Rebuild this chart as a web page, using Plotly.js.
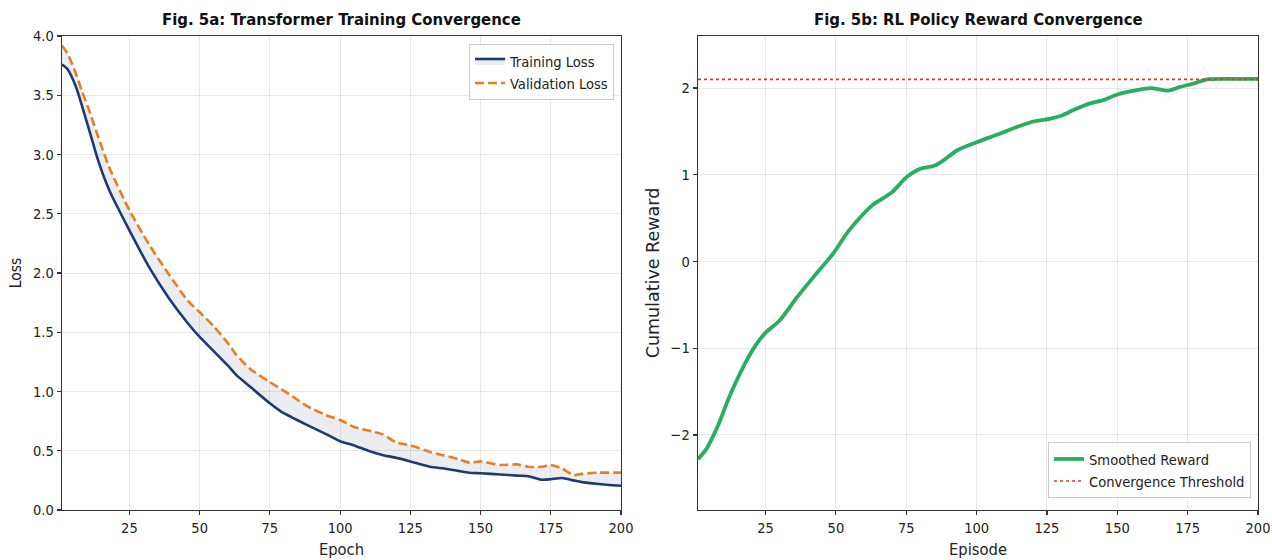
<!DOCTYPE html>
<html>
<head>
<meta charset="utf-8">
<script src="https://cdn.plot.ly/plotly-3.0.1.min.js"></script>
<style>html,body{margin:0;padding:0;background:#fff;}#chart{width:1272px;height:560px;}</style>
</head>
<body>
<div id="chart"></div>
<script>
// ---- Fig. 5a data ----
const epochs = [1,3,6,8,11,14,18,25,32,39,46,50,55,60,63,68,75,79,83,88,95,100,105,110,115,120,125,132,137,142,146,150,157,163,167,172,175,179,183,186,192,200];
const trainingLoss = [3.76,3.72,3.57,3.42,3.18,2.94,2.69,2.36,2.05,1.79,1.57,1.46,1.34,1.22,1.14,1.04,0.90,0.83,0.78,0.72,0.64,0.58,0.545,0.50,0.465,0.44,0.41,0.365,0.35,0.33,0.315,0.31,0.30,0.29,0.285,0.255,0.26,0.27,0.25,0.235,0.22,0.205];
const validationLoss = [3.92,3.85,3.68,3.54,3.35,3.14,2.88,2.53,2.24,1.99,1.76,1.67,1.55,1.41,1.31,1.19,1.08,1.02,0.96,0.88,0.80,0.76,0.70,0.67,0.64,0.57,0.545,0.49,0.46,0.43,0.40,0.41,0.38,0.385,0.365,0.365,0.38,0.35,0.295,0.305,0.315,0.315];
const epochTicks = [25,50,75,100,125,150,175,200];
const lossTicks = [0.0,0.5,1.0,1.5,2.0,2.5,3.0,3.5,4.0];

// ---- Fig. 5b data ----
const episodes = [1,4,8,12,17,21,25,30,36,42,49,54,57,63,70,75,80,85,88,93,100,108,115,121,126,130,134,140,145,150,156,162,168,172,178,182,191,200];
const smoothedReward = [-2.28,-2.16,-1.90,-1.57,-1.22,-0.99,-0.82,-0.68,-0.42,-0.18,0.09,0.33,0.45,0.65,0.80,0.97,1.07,1.105,1.16,1.28,1.375,1.47,1.56,1.62,1.645,1.68,1.74,1.82,1.86,1.925,1.97,2.00,1.97,2.01,2.06,2.10,2.105,2.105];
const rawEpisodes = [1,5,9,13,17,21,25,29,33,37,41,45,49,53,57,61,65,69,73,77,81,85,89,93,97,101,105,109,113,117,121,125,129,133,137,141,145,149,153,157,161,165,169,173,177,181,185,189,193,197,200];
const rawReward = [-2.55,-2.05,-1.85,-1.45,-1.25,-0.95,-0.85,-0.62,-0.62,-0.25,-0.30,0.05,0.05,0.38,0.40,0.62,0.60,0.85,0.78,1.10,1.05,1.00,1.30,1.22,1.42,1.35,1.52,1.40,1.60,1.52,1.70,1.60,1.75,1.68,1.90,1.78,1.95,1.85,2.15,1.90,2.22,1.95,1.88,2.15,1.98,2.25,2.00,2.15,2.05,2.18,2.08];
const convergenceThreshold = 2.1;
const episodeTicks = [25,50,75,100,125,150,175,200];
const rewardTicks = [-2,-1,0,1,2];

const COND = '"DejaVu Sans Condensed", "DejaVu Sans", sans-serif';
const REG = '"DejaVu Sans", sans-serif';
const navy = '#1f3a70', orange = '#e67e22', green = '#27ae60', red = '#e0392b';

const traces = [
  {x: epochs, y: validationLoss, mode:'lines', line:{width:0, shape:'spline', smoothing:0.6}, showlegend:false, hoverinfo:'skip', xaxis:'x', yaxis:'y'},
  {x: epochs, y: trainingLoss, mode:'lines', name:'Training Loss', line:{color:navy, width:2.6, shape:'spline', smoothing:0.6}, fill:'tonexty', fillcolor:'rgba(31,58,112,0.09)', xaxis:'x', yaxis:'y', legend:'legend'},
  {x: epochs, y: validationLoss, mode:'lines', name:'Validation Loss', line:{color:orange, width:2.6, dash:'9px,4px', shape:'spline', smoothing:0.6}, xaxis:'x', yaxis:'y', legend:'legend'},
  {x: rawEpisodes, y: rawReward, mode:'lines', line:{color:'rgba(160,185,175,0.18)', width:1}, showlegend:false, hoverinfo:'skip', xaxis:'x2', yaxis:'y2'},
  {x: episodes, y: smoothedReward, mode:'lines', name:'Smoothed Reward', line:{color:green, width:3.8, shape:'spline', smoothing:0.7}, xaxis:'x2', yaxis:'y2', legend:'legend2'},
  {x: [1,200], y: [convergenceThreshold, convergenceThreshold], mode:'lines', name:'Convergence Threshold', line:{color:red, width:1.6, dash:'dot'}, xaxis:'x2', yaxis:'y2', legend:'legend2'}
];

const axisCommon = {
  showline:true, linecolor:'#333', linewidth:1.3, mirror:true,
  ticks:'outside', ticklen:4, tickcolor:'#333', tickwidth:1.2,
  showgrid:true, gridcolor:'rgba(0,0,0,0.09)', gridwidth:1,
  zeroline:false, automargin:false, tickangle:0,
  tickfont:{family:COND, size:14.5, color:'#222'}
};

const PH = 474; // plot height in px (560 - 36 - 50)
const layout = {
  width:1272, height:560,
  margin:{l:0, r:0, t:36, b:50, autoexpand:false},
  paper_bgcolor:'#fff', plot_bgcolor:'#fff',
  font:{family:COND, size:14.5, color:'#222'},
  xaxis: Object.assign({}, axisCommon, {domain:[62/1272, 621/1272], range:[1,200], tickvals:epochTicks, title:{text:'Epoch', font:{family:COND, size:16.4}, standoff:8}}),
  yaxis: Object.assign({}, axisCommon, {domain:[0,1], range:[0,4], tickvals:lossTicks, tickformat:'.1f', title:{text:'Loss', font:{family:COND, size:15.5}, standoff:7}}),
  xaxis2: Object.assign({}, axisCommon, {domain:[698/1272, 1258/1272], anchor:'y2', range:[1,200], tickvals:episodeTicks, title:{text:'Episode', font:{family:COND, size:16.4}, standoff:8}}),
  yaxis2: Object.assign({}, axisCommon, {domain:[0,1], anchor:'x2', range:[-2.865,2.6], tickvals:rewardTicks, title:{text:'Cumulative Reward', font:{family:REG, size:17.5}, standoff:6}}),
  legend:{x:614/1272, xanchor:'right', y:1-(44-36)/PH, yanchor:'top', xref:'paper', yref:'paper', traceorder:'normal', bgcolor:'rgba(255,255,255,0.85)', bordercolor:'#cccccc', borderwidth:1, font:{family:COND, size:14.6}},
  legend2:{x:1251/1272, xanchor:'right', y:(510-498)/PH, yanchor:'bottom', xref:'paper', yref:'paper', traceorder:'normal', bgcolor:'rgba(255,255,255,0.85)', bordercolor:'#cccccc', borderwidth:1, font:{family:COND, size:14.6}},
  annotations:[
    {text:'<b>Fig. 5a: Transformer Training Convergence</b>', xref:'paper', yref:'paper', x:(62+621)/2/1272, xanchor:'center', y:1, yshift:5, yanchor:'bottom', showarrow:false, font:{family:COND, size:16.6, color:'#111'}},
    {text:'<b>Fig. 5b: RL Policy Reward Convergence</b>', xref:'paper', yref:'paper', x:(698+1258)/2/1272, xanchor:'center', y:1, yshift:5, yanchor:'bottom', showarrow:false, font:{family:COND, size:16.6, color:'#111'}}
  ],
  showlegend:true
};

Plotly.newPlot('chart', traces, layout, {displayModeBar:false, staticPlot:true});
</script>
</body>
</html>
